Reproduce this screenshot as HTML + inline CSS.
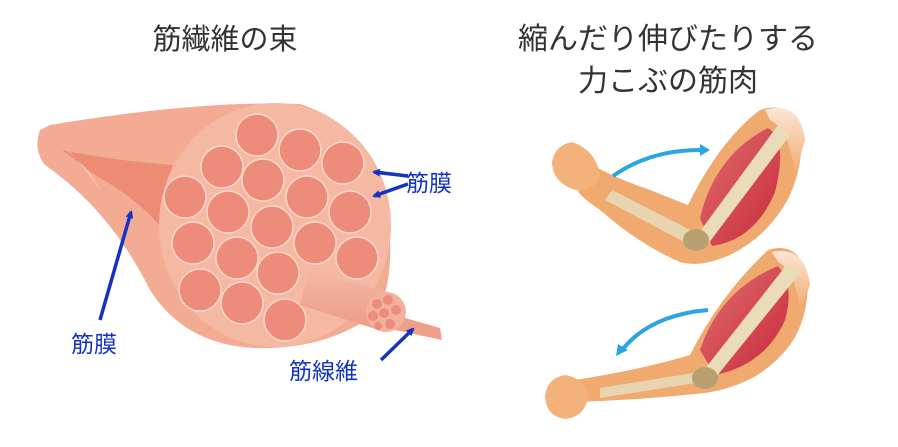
<!DOCTYPE html>
<html><head><meta charset="utf-8"><style>
html,body{margin:0;padding:0;background:#fff;}
svg{display:block;}
text{font-family:"Liberation Sans","Noto Sans CJK JP",sans-serif;}
</style></head><body>
<svg width="898" height="447" viewBox="0 0 898 447" xmlns="http://www.w3.org/2000/svg">
<defs>
<marker id="ab" markerWidth="8" markerHeight="8" refX="6" refY="4" orient="auto" markerUnits="userSpaceOnUse"><path d="M0,0 L8,4 L0,8 Z" fill="#1433c4"/></marker>
<linearGradient id="mus" x1="0" y1="0" x2="1" y2="1"><stop offset="0" stop-color="#e07070"/><stop offset="1" stop-color="#c8283a"/></linearGradient>
<linearGradient id="tube" x1="0" y1="0" x2="0" y2="1"><stop offset="0" stop-color="#f4b8a6"/><stop offset="1" stop-color="#ec9a84"/></linearGradient>
<linearGradient id="sh" x1="0" y1="1" x2="0" y2="0"><stop offset="0" stop-color="#f0aa70"/><stop offset="1" stop-color="#fbe6d6"/></linearGradient>
</defs>
<text x="225" y="49" font-size="29" text-anchor="middle" fill="#333">筋繊維の束</text>
<text x="668" y="49" font-size="30" text-anchor="middle" fill="#333">縮んだり伸びたりする</text>
<text x="668" y="91" font-size="30" text-anchor="middle" fill="#333">力こぶの筋肉</text>

<!-- bundle body -->
<path d="M40,130 Q33,150 45,165 Q110,210 150,290 Q185,345 255,348 Q330,350 380,310 Q395,270 388,220 Q380,130 300,104 Q200,100 50,125 Z" fill="#f3ab94"/>
<path d="M62,150 Q110,160 172,165 L165,232 Q140,200 95,175 Z" fill="#ec8c74"/>
<path d="M65,148 Q80,160 100,190 Q90,170 70,153 Z" fill="#f9d3c3"/>
<ellipse cx="275" cy="225" rx="116" ry="122" fill="#f5b8a2"/>
<g fill="#ee8c7b" stroke="#fbd7cb" stroke-width="1.5">
<circle cx="257" cy="135" r="21"/><circle cx="300" cy="150" r="21"/><circle cx="343" cy="163" r="21"/>
<circle cx="222" cy="167" r="21"/><circle cx="263" cy="180" r="21"/><circle cx="307" cy="197" r="21"/><circle cx="350" cy="212" r="21"/>
<circle cx="185" cy="197" r="21"/><circle cx="228" cy="212" r="21"/><circle cx="272" cy="227" r="21"/><circle cx="315" cy="243" r="21"/><circle cx="357" cy="258" r="21"/>
<circle cx="193" cy="243" r="21"/><circle cx="237" cy="258" r="21"/><circle cx="278" cy="273" r="21"/>
<circle cx="200" cy="290" r="21"/><circle cx="242" cy="303" r="21"/><circle cx="285" cy="320" r="21"/>
</g>
<path d="M308,270 L385,292 L385,332 L300,305 Z" fill="url(#tube)"/>
<path d="M395,315 L440,328 L442,340 L395,330 Z" fill="#f0a08a"/>
<circle cx="386" cy="312" r="20" fill="#f3b19d"/>
<g fill="#ee8c7b"><circle cx="377" cy="304" r="5"/><circle cx="388" cy="300" r="5"/><circle cx="396" cy="310" r="5"/><circle cx="384" cy="313" r="5"/><circle cx="373" cy="316" r="5"/><circle cx="390" cy="324" r="5"/><circle cx="378" cy="326" r="4"/></g>

<g stroke="#1433c4" stroke-width="3.5" fill="none" marker-end="url(#ab)">
<line x1="100" y1="320" x2="131" y2="212"/>
<line x1="408" y1="176" x2="374" y2="172"/>
<line x1="408" y1="184" x2="374" y2="196"/>
<line x1="381" y1="360" x2="413" y2="329"/>
</g>
<g fill="#1433c4" font-size="23">
<text x="406" y="191">筋膜</text>
<text x="71" y="352">筋膜</text>
<text x="289" y="379">筋線維</text>
</g>

<!-- top arm -->
<path d="M760,110 Q790,100 800,130 Q805,160 790,195 Q770,235 730,255 Q700,268 680,262 Q640,245 600,210 Q585,200 578,192 L592,165 Q620,180 645,188 Q675,200 688,205 Q720,140 760,110 Z" fill="#f0aa70"/>
<path d="M765,110 Q800,100 805,140 L795,175 Q790,130 770,120 Z" fill="url(#sh)"/>
<path d="M572,142 Q555,145 552,162 Q552,182 575,190 Q595,192 600,175 Q596,150 572,142 Z" fill="#f3b27a"/>
<path d="M700,218 Q715,155 768,128 Q788,140 775,192 Q755,240 712,246 Z" fill="url(#mus)"/>
<path d="M605,200 L690,245 L700,235 L612,190 Z" fill="#e8d5b0"/>
<path d="M690,245 L778,125 L790,135 L705,248 Z" fill="#eadcb8"/>
<ellipse cx="696" cy="240" rx="13" ry="11" fill="#b8a070"/>
<!-- bottom arm -->
<path d="M768,250 Q800,240 808,280 Q808,320 790,345 Q760,385 705,393 Q640,400 575,402 L575,380 Q640,370 690,355 Q720,295 768,250 Z" fill="#f0aa70"/>
<path d="M772,252 Q805,245 810,285 L800,310 Q795,270 778,262 Z" fill="url(#sh)"/>
<path d="M565,375 Q547,378 545,396 Q546,417 566,419 Q586,416 588,396 Q585,378 565,375 Z" fill="#f3b27a"/>
<path d="M700,350 Q720,290 778,266 Q795,285 785,320 Q765,365 715,375 Z" fill="url(#mus)"/>
<path d="M600,388 L700,372 L702,382 L600,398 Z" fill="#e8d5b0"/>
<path d="M700,375 L788,263 L800,273 L712,382 Z" fill="#eadcb8"/>
<ellipse cx="705" cy="378" rx="13" ry="11" fill="#b8a070"/>
<path d="M613,176 Q650,150 700,150" stroke="#2aa5e0" stroke-width="4" fill="none"/>
<path d="M700,144 L710,150 L700,156 Z" fill="#2aa5e0"/>
<path d="M708,310 Q650,315 622,350" stroke="#2aa5e0" stroke-width="4" fill="none"/>
<path d="M616,356 L618,344 L628,350 Z" fill="#2aa5e0"/>
</svg>
</body></html>
